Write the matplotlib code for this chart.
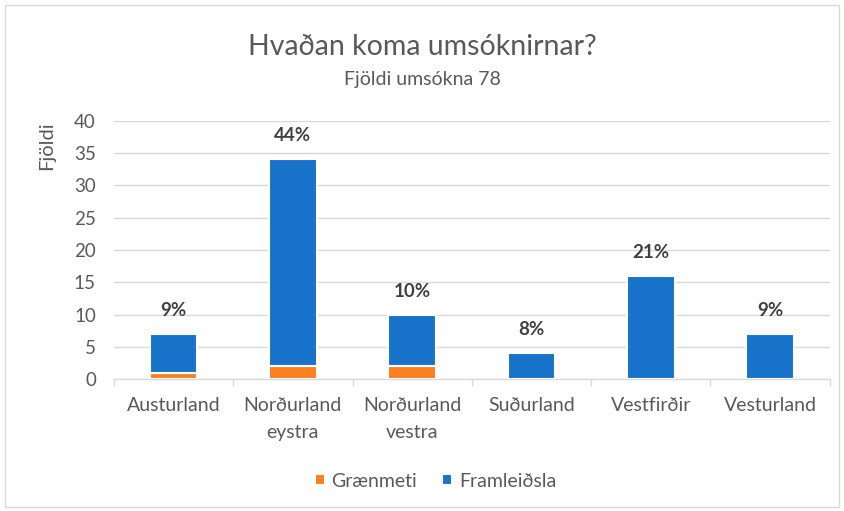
import matplotlib.pyplot as plt
import numpy as np
from matplotlib.patches import Rectangle

plt.rcParams['font.family'] = ['Lato', 'DejaVu Sans']

# Data
regions = ['Austurland', 'Norðurland\neystra', 'Norðurland\nvestra', 'Suðurland', 'Vestfirðir', 'Vesturland']
graenmeti = [1, 2, 2, 0, 0, 0]
framleidsla = [6, 32, 8, 4, 16, 7]
pct_labels = ['9%', '44%', '10%', '8%', '21%', '9%']

orange = '#FC7F22'
blue = '#1773C9'
grid_col = '#D9D9D9'
text_col = '#595959'

fig = plt.figure(figsize=(8.44, 5.11), dpi=100)
ax = fig.add_axes([0.135, 0.2577, 0.848, 0.5061])

x = np.arange(len(regions))
totals = np.array(graenmeti) + np.array(framleidsla)

ax.bar(x, graenmeti, width=0.4, color=orange, edgecolor='white', linewidth=1.5, label='Grænmeti', zorder=3)
ax.bar(x, framleidsla, bottom=graenmeti, width=0.4, color=blue, edgecolor='white', linewidth=1.5,
       label='Framleiðsla', zorder=3)

for xi, tot, lab in zip(x, totals, pct_labels):
    ax.annotate(lab, (xi, tot), xytext=(0, 17), textcoords='offset points', ha='center', va='center',
                fontsize=13.5, fontweight='bold', color='#404040')

ax.set_xlim(-0.5, len(regions) - 0.5)
ax.set_ylim(0, 40)
ax.set_yticks(range(0, 41, 5))
ax.yaxis.grid(True, color=grid_col, linewidth=1, zorder=0)
ax.set_xticks(x)
ax.set_xticklabels(regions, linespacing=1.7)
ax.set_xticks(np.arange(-0.5, len(regions), 1), minor=True)
ax.tick_params(axis='x', which='major', length=0, pad=13, labelsize=14, labelcolor=text_col)
ax.tick_params(axis='x', which='minor', length=5, color=grid_col, width=1)
ax.tick_params(axis='y', length=0, pad=13, labelsize=13.5, labelcolor=text_col)
for s in ['top', 'right', 'left']:
    ax.spines[s].set_visible(False)
ax.spines['bottom'].set_color(grid_col)
ax.spines['bottom'].set_linewidth(1)

fig.text(0.5, 1 - 47 / 511, 'Hvaðan koma umsóknirnar?', ha='center', va='center', fontsize=20.5, color=text_col)
fig.text(0.5, 1 - 79 / 511, 'Fjöldi umsókna 78', ha='center', va='center', fontsize=14, color=text_col)
fig.text(47 / 844, 1 - 146 / 511, 'Fjöldi', rotation=90, ha='center', va='center', fontsize=14.5, color=text_col)

ax.legend(loc='center', bbox_to_anchor=(0.516, 1 - 481 / 511), bbox_transform=fig.transFigure, ncol=2,
          frameon=False, fontsize=14, labelcolor=text_col, handlelength=0.5, handleheight=0.5,
          handletextpad=0.35, columnspacing=1.3)

fig.patches.append(Rectangle((0.006, 0.008), 0.988, 0.982, transform=fig.transFigure, fill=False,
                             edgecolor='#D9D9D9', linewidth=1))

fig.savefig('out.png', dpi=100)
plt.close(fig)
